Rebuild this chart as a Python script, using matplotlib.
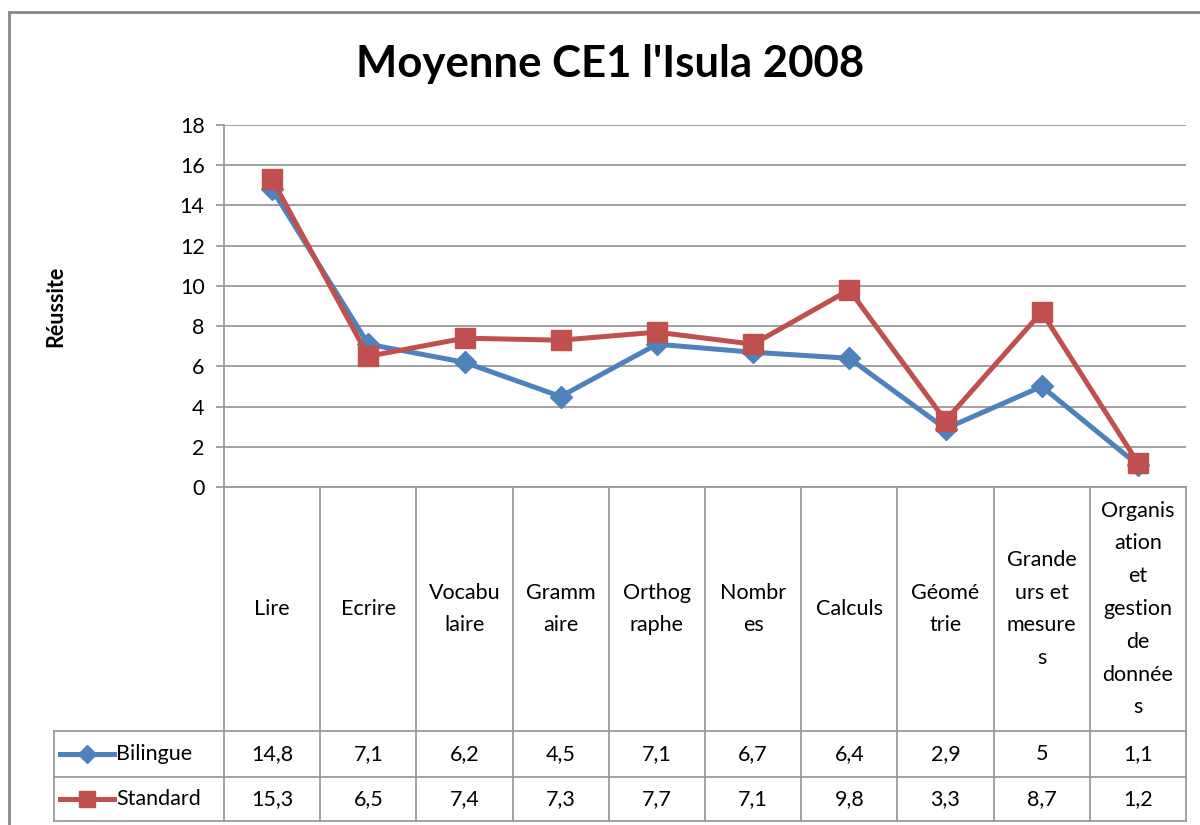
import matplotlib.pyplot as plt
from matplotlib.patches import Rectangle

plt.rcParams['font.family'] = ['Lato', 'DejaVu Sans']

categories = ["Lire", "Ecrire", "Vocabu\nlaire", "Gramm\naire", "Orthog\nraphe",
              "Nombr\nes", "Calculs", "Géomé\ntrie", "Grande\nurs et\nmesure\ns",
              "Organis\nation\net\ngestion\nde\ndonnée\ns"]
bilingue = [14.8, 7.1, 6.2, 4.5, 7.1, 6.7, 6.4, 2.9, 5, 1.1]
standard = [15.3, 6.5, 7.4, 7.3, 7.7, 7.1, 9.8, 3.3, 8.7, 1.2]
series_names = ["Bilingue", "Standard"]
yticks = [0, 2, 4, 6, 8, 10, 12, 14, 16, 18]

blue = "#4F81BD"
red = "#C0504D"
grid = "#9A9A9A"
fs = 15.5

W, H = 1200, 825
fig = plt.figure(figsize=(12, 8.25), dpi=100)

# outer chart border
fig.add_artist(Rectangle((9 / W, -0.01), (1210 - 9) / W, 1 - 12 / H + 0.01,
                         transform=fig.transFigure, fill=False,
                         edgecolor="#888888", lw=2))

x0, x1 = 224, 1186
ytop, ybot = 125, 487
ax = fig.add_axes([x0 / W, 1 - ybot / H, (x1 - x0) / W, (ybot - ytop) / H])
xs = list(range(len(categories)))
ax.plot(xs, bilingue, color=blue, lw=3.6, marker="D", ms=11, mec=blue, mfc=blue, zorder=3)
ax.plot(xs, standard, color=red, lw=3.6, marker="s", ms=14, mec=red, mfc=red, zorder=4)
ax.set_xlim(-0.5, len(categories) - 0.5)
ax.set_ylim(0, 18)
ax.set_yticks(yticks)
ax.set_yticklabels([str(v) for v in yticks], fontsize=fs)
ax.set_xticks([])
ax.tick_params(axis="y", length=6, color=grid, width=1.3, pad=8)
ax.grid(axis="y", color=grid, lw=1.3)
for s in ["top", "right"]:
    ax.spines[s].set_visible(False)
for s in ["left", "bottom"]:
    ax.spines[s].set_color(grid)
    ax.spines[s].set_linewidth(1.3)
ax.set_ylabel("Réussite", fontsize=15.5, fontweight="bold", labelpad=82)

fig.text(610 / W, 1 - 64 / H, "Moyenne CE1 l'Isula 2008", ha="center", va="center",
         fontsize=31.5, fontweight="bold")

# data table below the plot, same x scale as the plot
tbot = 821
tab = fig.add_axes([x0 / W, 1 - tbot / H, (x1 - x0) / W, (tbot - ybot) / H])
tab.set_xlim(-0.5, len(categories) - 0.5)
tab.set_ylim(tbot, ybot)
tab.axis("off")
unit = (x1 - x0) / len(categories)
xleft = -0.5 - (x0 - 54) / unit
row1, row2 = 731, 777
lk = dict(color=grid, lw=1.3, clip_on=False)
for i in range(len(categories) + 1):
    tab.plot([i - 0.5, i - 0.5], [ybot, tbot], **lk)
for y in [row1, row2, tbot]:
    tab.plot([xleft, len(categories) - 0.5], [y, y], **lk)
tab.plot([xleft, xleft], [row1, tbot], **lk)

for i, c in enumerate(categories):
    tab.text(i, (ybot + row1) / 2, c, ha="center", va="center", fontsize=fs,
             linespacing=1.8)
    tab.text(i, (row1 + row2) / 2, f"{bilingue[i]:g}".replace(".", ","),
             ha="center", va="center", fontsize=fs)
    tab.text(i, (row2 + tbot) / 2, f"{standard[i]:g}".replace(".", ","),
             ha="center", va="center", fontsize=fs)

# legend keys inside the table
kx = [xleft + 6 / unit, xleft + 60 / unit]
for (yc, col, mk, ms, name) in [((row1 + row2) / 2, blue, "D", 9, series_names[0]),
                                ((row2 + tbot) / 2, red, "s", 12, series_names[1])]:
    tab.plot(kx, [yc, yc], color=col, lw=3.6, clip_on=False)
    tab.plot([sum(kx) / 2], [yc], marker=mk, ms=ms, color=col, clip_on=False)
    tab.text(kx[1] + 2 / unit, yc, name, ha="left", va="center", fontsize=fs)

fig.savefig("out.png", dpi=100)
